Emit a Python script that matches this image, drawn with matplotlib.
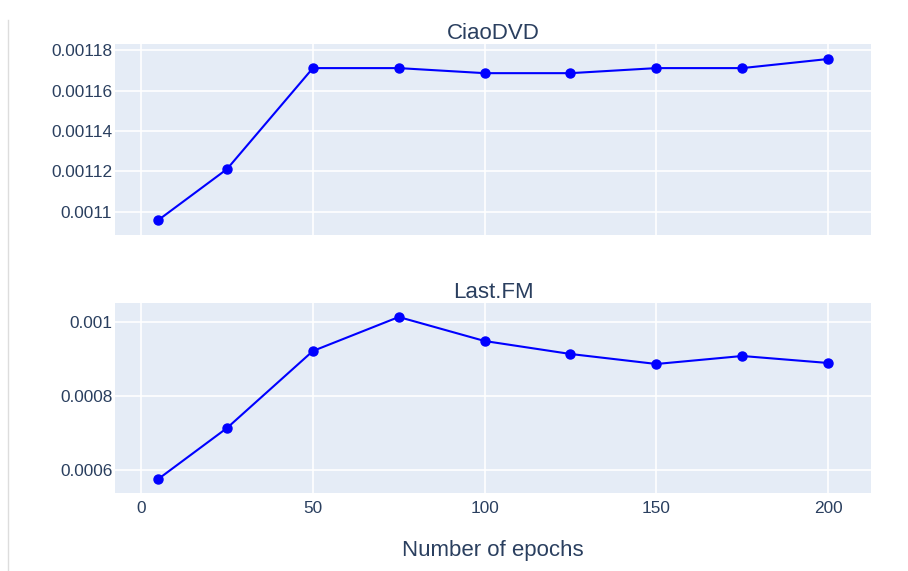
import matplotlib
matplotlib.use('Agg')
import matplotlib.pyplot as plt
from matplotlib.lines import Line2D

plt.rcParams['font.family'] = ['Liberation Sans', 'DejaVu Sans']

# epochs on the x axis
epochs = [5, 25, 50, 75, 100, 125, 150, 175, 200]
# metric values
ciao = [0.001096, 0.0011212, 0.0011711, 0.0011711, 0.0011686, 0.0011686, 0.0011711, 0.0011711, 0.0011756]
lastfm = [0.0005757, 0.0007135, 0.0009216, 0.0010135, 0.0009486, 0.0009135, 0.0008865, 0.0009081, 0.0008892]

titles = ['CiaoDVD', 'Last.FM']
xticks = [0, 50, 100, 150, 200]
ciao_ticks = [0.0011, 0.00112, 0.00114, 0.00116, 0.00118]
ciao_labels = ['0.0011', '0.00112', '0.00114', '0.00116', '0.00118']
lastfm_ticks = [0.0006, 0.0008, 0.001]
lastfm_labels = ['0.0006', '0.0008', '0.001']

txt = '#2a3f5f'
bg = '#e5ecf6'

fig = plt.figure(figsize=(9.08, 5.71), dpi=100)
ax1 = fig.add_axes([0.1267, 0.5884, 0.8326, 0.3345])
ax2 = fig.add_axes([0.1267, 0.1366, 0.8326, 0.3328])

setup = [(ax1, ciao, ciao_ticks, ciao_labels, (0.0010886, 0.001183)),
         (ax2, lastfm, lastfm_ticks, lastfm_labels, (0.0005378, 0.0010514))]

for i, (ax, vals, yt, yl, lim) in enumerate(setup):
    ax.set_facecolor(bg)
    ax.plot(epochs, vals, '-o', color='#0000ff', linewidth=1.5, markersize=6.5, zorder=3)
    ax.set_xlim(-7.6, 212.5)
    ax.set_ylim(*lim)
    ax.set_xticks(xticks)
    ax.set_yticks(yt)
    ax.set_yticklabels(yl)
    ax.grid(True, color='white', linewidth=1.2)
    ax.set_axisbelow(True)
    for s in ax.spines.values():
        s.set_visible(False)
    ax.tick_params(length=0, labelsize=12.4, labelcolor=txt, pad=2)
    ax.tick_params(axis='x', pad=6)
    ax.set_title(titles[i], fontsize=16, color=txt, pad=3)

ax1.set_xticklabels([])
ax2.set_xlabel('Number of epochs', fontsize=16, color=txt, labelpad=17)

# thin border line at the left edge
fig.add_artist(Line2D([0.009, 0.009], [0.0, 0.965], color='#dddddd', linewidth=1))

fig.savefig('out.png', dpi=100)
